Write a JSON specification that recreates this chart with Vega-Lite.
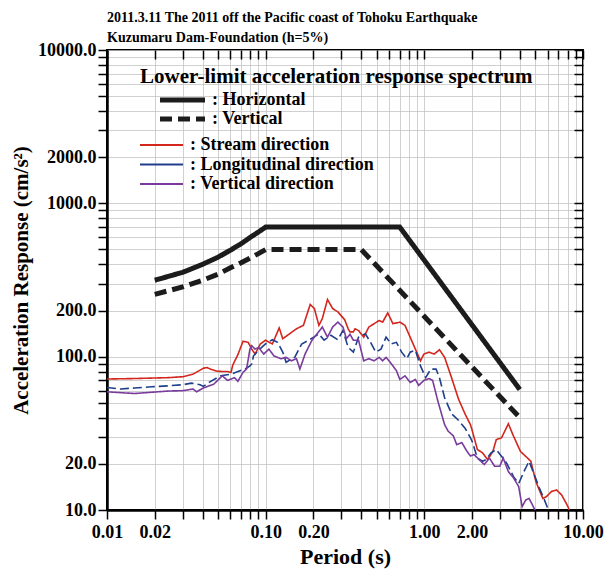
{
  "$schema": "https://vega.github.io/schema/vega-lite/v6.json",
  "width": 476,
  "height": 460,
  "autosize": {"type": "none"},
  "padding": {"left": 107, "top": 50, "right": 26, "bottom": 59},
  "background": "white",
  "title": {
    "text": ["2011.3.11 The 2011 off the Pacific coast of Tohoku Earthquake", "Kuzumaru Dam-Foundation (h=5%)"],
    "anchor": "start",
    "frame": "group",
    "font": "Liberation Serif",
    "fontSize": 14,
    "fontWeight": "bold",
    "color": "black",
    "lineHeight": 20,
    "offset": -4
  },
  "config": {
    "view": {"stroke": "black", "strokeWidth": 2},
    "font": "Liberation Serif",
    "axis": {
      "labelFont": "Liberation Serif",
      "labelFontWeight": "bold",
      "labelColor": "black",
      "titleFont": "Liberation Serif",
      "titleFontWeight": "bold",
      "titleColor": "black",
      "domainColor": "black",
      "tickColor": "black"
    }
  },
  "datasets": {
    "limits": [
      {"spec": "Horizontal", "T": 0.02, "Sa": 315},
      {"spec": "Horizontal", "T": 0.03, "Sa": 355},
      {"spec": "Horizontal", "T": 0.04, "Sa": 400},
      {"spec": "Horizontal", "T": 0.05, "Sa": 445},
      {"spec": "Horizontal", "T": 0.06, "Sa": 495},
      {"spec": "Horizontal", "T": 0.07, "Sa": 545},
      {"spec": "Horizontal", "T": 0.08, "Sa": 600},
      {"spec": "Horizontal", "T": 0.09, "Sa": 650},
      {"spec": "Horizontal", "T": 0.1, "Sa": 700},
      {"spec": "Horizontal", "T": 0.7, "Sa": 700},
      {"spec": "Horizontal", "T": 4.0, "Sa": 61},
      {"spec": "Vertical", "T": 0.02, "Sa": 255},
      {"spec": "Vertical", "T": 0.03, "Sa": 285},
      {"spec": "Vertical", "T": 0.04, "Sa": 315},
      {"spec": "Vertical", "T": 0.05, "Sa": 345},
      {"spec": "Vertical", "T": 0.06, "Sa": 380},
      {"spec": "Vertical", "T": 0.07, "Sa": 410},
      {"spec": "Vertical", "T": 0.08, "Sa": 440},
      {"spec": "Vertical", "T": 0.09, "Sa": 470},
      {"spec": "Vertical", "T": 0.1, "Sa": 500},
      {"spec": "Vertical", "T": 0.4, "Sa": 500},
      {"spec": "Vertical", "T": 4.0, "Sa": 40}
    ],
    "records": [
      {"dir": "Stream direction", "T": 0.01, "Sa": 71.5},
      {"dir": "Stream direction", "T": 0.0149, "Sa": 72},
      {"dir": "Stream direction", "T": 0.0191, "Sa": 72.5},
      {"dir": "Stream direction", "T": 0.0246, "Sa": 73},
      {"dir": "Stream direction", "T": 0.03, "Sa": 74},
      {"dir": "Stream direction", "T": 0.0349, "Sa": 77},
      {"dir": "Stream direction", "T": 0.0405, "Sa": 84},
      {"dir": "Stream direction", "T": 0.0426, "Sa": 85},
      {"dir": "Stream direction", "T": 0.0448, "Sa": 83},
      {"dir": "Stream direction", "T": 0.0495, "Sa": 80.3},
      {"dir": "Stream direction", "T": 0.0547, "Sa": 80},
      {"dir": "Stream direction", "T": 0.0575, "Sa": 80},
      {"dir": "Stream direction", "T": 0.0605, "Sa": 79},
      {"dir": "Stream direction", "T": 0.062, "Sa": 88},
      {"dir": "Stream direction", "T": 0.0668, "Sa": 103},
      {"dir": "Stream direction", "T": 0.072, "Sa": 126},
      {"dir": "Stream direction", "T": 0.0776, "Sa": 124},
      {"dir": "Stream direction", "T": 0.0817, "Sa": 112},
      {"dir": "Stream direction", "T": 0.0858, "Sa": 104},
      {"dir": "Stream direction", "T": 0.0925, "Sa": 121},
      {"dir": "Stream direction", "T": 0.0997, "Sa": 128},
      {"dir": "Stream direction", "T": 0.1102, "Sa": 121},
      {"dir": "Stream direction", "T": 0.1217, "Sa": 154},
      {"dir": "Stream direction", "T": 0.1281, "Sa": 131},
      {"dir": "Stream direction", "T": 0.1414, "Sa": 141},
      {"dir": "Stream direction", "T": 0.1564, "Sa": 152},
      {"dir": "Stream direction", "T": 0.1729, "Sa": 160},
      {"dir": "Stream direction", "T": 0.1909, "Sa": 219},
      {"dir": "Stream direction", "T": 0.2027, "Sa": 206},
      {"dir": "Stream direction", "T": 0.2165, "Sa": 160},
      {"dir": "Stream direction", "T": 0.2275, "Sa": 177},
      {"dir": "Stream direction", "T": 0.2453, "Sa": 236},
      {"dir": "Stream direction", "T": 0.2643, "Sa": 206},
      {"dir": "Stream direction", "T": 0.2849, "Sa": 196},
      {"dir": "Stream direction", "T": 0.315, "Sa": 174},
      {"dir": "Stream direction", "T": 0.331, "Sa": 152},
      {"dir": "Stream direction", "T": 0.34, "Sa": 145},
      {"dir": "Stream direction", "T": 0.357, "Sa": 145},
      {"dir": "Stream direction", "T": 0.366, "Sa": 152},
      {"dir": "Stream direction", "T": 0.385, "Sa": 148},
      {"dir": "Stream direction", "T": 0.415, "Sa": 134},
      {"dir": "Stream direction", "T": 0.447, "Sa": 156},
      {"dir": "Stream direction", "T": 0.482, "Sa": 164},
      {"dir": "Stream direction", "T": 0.519, "Sa": 172},
      {"dir": "Stream direction", "T": 0.546, "Sa": 168},
      {"dir": "Stream direction", "T": 0.588, "Sa": 193},
      {"dir": "Stream direction", "T": 0.634, "Sa": 164},
      {"dir": "Stream direction", "T": 0.701, "Sa": 168},
      {"dir": "Stream direction", "T": 0.755, "Sa": 160},
      {"dir": "Stream direction", "T": 0.814, "Sa": 134},
      {"dir": "Stream direction", "T": 0.878, "Sa": 112},
      {"dir": "Stream direction", "T": 0.946, "Sa": 94},
      {"dir": "Stream direction", "T": 0.994, "Sa": 104},
      {"dir": "Stream direction", "T": 1.07, "Sa": 107},
      {"dir": "Stream direction", "T": 1.155, "Sa": 104},
      {"dir": "Stream direction", "T": 1.245, "Sa": 111},
      {"dir": "Stream direction", "T": 1.342, "Sa": 99},
      {"dir": "Stream direction", "T": 1.484, "Sa": 73},
      {"dir": "Stream direction", "T": 1.641, "Sa": 53},
      {"dir": "Stream direction", "T": 1.811, "Sa": 42},
      {"dir": "Stream direction", "T": 1.953, "Sa": 36},
      {"dir": "Stream direction", "T": 2.003, "Sa": 33},
      {"dir": "Stream direction", "T": 2.159, "Sa": 24.8},
      {"dir": "Stream direction", "T": 2.327, "Sa": 23.6},
      {"dir": "Stream direction", "T": 2.507, "Sa": 21.3},
      {"dir": "Stream direction", "T": 2.703, "Sa": 24.1},
      {"dir": "Stream direction", "T": 2.841, "Sa": 28.8},
      {"dir": "Stream direction", "T": 3.062, "Sa": 29.5},
      {"dir": "Stream direction", "T": 3.385, "Sa": 36.5},
      {"dir": "Stream direction", "T": 3.649, "Sa": 30.3},
      {"dir": "Stream direction", "T": 4.035, "Sa": 24.1},
      {"dir": "Stream direction", "T": 4.35, "Sa": 22.4},
      {"dir": "Stream direction", "T": 4.69, "Sa": 20.8},
      {"dir": "Stream direction", "T": 5.05, "Sa": 15.3},
      {"dir": "Stream direction", "T": 5.58, "Sa": 11.9},
      {"dir": "Stream direction", "T": 5.87, "Sa": 12.2},
      {"dir": "Stream direction", "T": 6.33, "Sa": 13.2},
      {"dir": "Stream direction", "T": 6.82, "Sa": 13.5},
      {"dir": "Stream direction", "T": 7.35, "Sa": 12.5},
      {"dir": "Stream direction", "T": 7.93, "Sa": 10.8},
      {"dir": "Stream direction", "T": 8.33, "Sa": 9.7},
      {"dir": "Longitudinal direction", "T": 0.01, "Sa": 63},
      {"dir": "Longitudinal direction", "T": 0.0122, "Sa": 61.5},
      {"dir": "Longitudinal direction", "T": 0.0149, "Sa": 62.5},
      {"dir": "Longitudinal direction", "T": 0.0191, "Sa": 63.6},
      {"dir": "Longitudinal direction", "T": 0.0246, "Sa": 64.6},
      {"dir": "Longitudinal direction", "T": 0.03, "Sa": 65.6},
      {"dir": "Longitudinal direction", "T": 0.034, "Sa": 67.2},
      {"dir": "Longitudinal direction", "T": 0.0386, "Sa": 65.6},
      {"dir": "Longitudinal direction", "T": 0.0405, "Sa": 64},
      {"dir": "Longitudinal direction", "T": 0.044, "Sa": 68},
      {"dir": "Longitudinal direction", "T": 0.0495, "Sa": 73},
      {"dir": "Longitudinal direction", "T": 0.0521, "Sa": 75},
      {"dir": "Longitudinal direction", "T": 0.0605, "Sa": 77},
      {"dir": "Longitudinal direction", "T": 0.0739, "Sa": 83},
      {"dir": "Longitudinal direction", "T": 0.0796, "Sa": 87},
      {"dir": "Longitudinal direction", "T": 0.082, "Sa": 90},
      {"dir": "Longitudinal direction", "T": 0.0837, "Sa": 101},
      {"dir": "Longitudinal direction", "T": 0.0902, "Sa": 110},
      {"dir": "Longitudinal direction", "T": 0.0997, "Sa": 121},
      {"dir": "Longitudinal direction", "T": 0.1102, "Sa": 129},
      {"dir": "Longitudinal direction", "T": 0.1188, "Sa": 124},
      {"dir": "Longitudinal direction", "T": 0.1281, "Sa": 107},
      {"dir": "Longitudinal direction", "T": 0.1346, "Sa": 92},
      {"dir": "Longitudinal direction", "T": 0.1524, "Sa": 99},
      {"dir": "Longitudinal direction", "T": 0.1686, "Sa": 121},
      {"dir": "Longitudinal direction", "T": 0.1864, "Sa": 128},
      {"dir": "Longitudinal direction", "T": 0.2009, "Sa": 134},
      {"dir": "Longitudinal direction", "T": 0.2165, "Sa": 141},
      {"dir": "Longitudinal direction", "T": 0.2334, "Sa": 128},
      {"dir": "Longitudinal direction", "T": 0.2577, "Sa": 138},
      {"dir": "Longitudinal direction", "T": 0.2849, "Sa": 129},
      {"dir": "Longitudinal direction", "T": 0.3071, "Sa": 148},
      {"dir": "Longitudinal direction", "T": 0.331, "Sa": 115},
      {"dir": "Longitudinal direction", "T": 0.357, "Sa": 107},
      {"dir": "Longitudinal direction", "T": 0.385, "Sa": 134},
      {"dir": "Longitudinal direction", "T": 0.425, "Sa": 141},
      {"dir": "Longitudinal direction", "T": 0.458, "Sa": 124},
      {"dir": "Longitudinal direction", "T": 0.494, "Sa": 107},
      {"dir": "Longitudinal direction", "T": 0.533, "Sa": 112},
      {"dir": "Longitudinal direction", "T": 0.574, "Sa": 134},
      {"dir": "Longitudinal direction", "T": 0.619, "Sa": 121},
      {"dir": "Longitudinal direction", "T": 0.667, "Sa": 124},
      {"dir": "Longitudinal direction", "T": 0.719, "Sa": 107},
      {"dir": "Longitudinal direction", "T": 0.775, "Sa": 97},
      {"dir": "Longitudinal direction", "T": 0.814, "Sa": 107},
      {"dir": "Longitudinal direction", "T": 0.878, "Sa": 110},
      {"dir": "Longitudinal direction", "T": 0.946, "Sa": 87},
      {"dir": "Longitudinal direction", "T": 1.02, "Sa": 73},
      {"dir": "Longitudinal direction", "T": 1.099, "Sa": 83},
      {"dir": "Longitudinal direction", "T": 1.185, "Sa": 83},
      {"dir": "Longitudinal direction", "T": 1.245, "Sa": 73},
      {"dir": "Longitudinal direction", "T": 1.342, "Sa": 54},
      {"dir": "Longitudinal direction", "T": 1.484, "Sa": 42.5},
      {"dir": "Longitudinal direction", "T": 1.641, "Sa": 38.5},
      {"dir": "Longitudinal direction", "T": 1.811, "Sa": 34},
      {"dir": "Longitudinal direction", "T": 1.953, "Sa": 29.5},
      {"dir": "Longitudinal direction", "T": 2.003, "Sa": 28},
      {"dir": "Longitudinal direction", "T": 2.159, "Sa": 21.8},
      {"dir": "Longitudinal direction", "T": 2.327, "Sa": 20.8},
      {"dir": "Longitudinal direction", "T": 2.445, "Sa": 21.3},
      {"dir": "Longitudinal direction", "T": 2.635, "Sa": 23.6},
      {"dir": "Longitudinal direction", "T": 2.841, "Sa": 24.8},
      {"dir": "Longitudinal direction", "T": 3.062, "Sa": 22.4},
      {"dir": "Longitudinal direction", "T": 3.301, "Sa": 20.2},
      {"dir": "Longitudinal direction", "T": 3.649, "Sa": 16.5},
      {"dir": "Longitudinal direction", "T": 3.934, "Sa": 14.9},
      {"dir": "Longitudinal direction", "T": 4.24, "Sa": 17.8},
      {"dir": "Longitudinal direction", "T": 4.57, "Sa": 20.8},
      {"dir": "Longitudinal direction", "T": 4.93, "Sa": 17},
      {"dir": "Longitudinal direction", "T": 5.31, "Sa": 13.9},
      {"dir": "Longitudinal direction", "T": 5.72, "Sa": 11.6},
      {"dir": "Longitudinal direction", "T": 6.01, "Sa": 10.2},
      {"dir": "Longitudinal direction", "T": 6.3, "Sa": 9.5},
      {"dir": "Vertical direction", "T": 0.01, "Sa": 59},
      {"dir": "Vertical direction", "T": 0.0149, "Sa": 57.5},
      {"dir": "Vertical direction", "T": 0.0191, "Sa": 58.6},
      {"dir": "Vertical direction", "T": 0.0246, "Sa": 59.7},
      {"dir": "Vertical direction", "T": 0.03, "Sa": 60},
      {"dir": "Vertical direction", "T": 0.0349, "Sa": 61.5},
      {"dir": "Vertical direction", "T": 0.0367, "Sa": 59},
      {"dir": "Vertical direction", "T": 0.0405, "Sa": 62.5},
      {"dir": "Vertical direction", "T": 0.0471, "Sa": 66.2},
      {"dir": "Vertical direction", "T": 0.0533, "Sa": 75},
      {"dir": "Vertical direction", "T": 0.0575, "Sa": 70},
      {"dir": "Vertical direction", "T": 0.0636, "Sa": 73},
      {"dir": "Vertical direction", "T": 0.0668, "Sa": 69},
      {"dir": "Vertical direction", "T": 0.072, "Sa": 79},
      {"dir": "Vertical direction", "T": 0.0758, "Sa": 83},
      {"dir": "Vertical direction", "T": 0.0796, "Sa": 112},
      {"dir": "Vertical direction", "T": 0.0817, "Sa": 118},
      {"dir": "Vertical direction", "T": 0.0858, "Sa": 112},
      {"dir": "Vertical direction", "T": 0.0902, "Sa": 115},
      {"dir": "Vertical direction", "T": 0.0972, "Sa": 104},
      {"dir": "Vertical direction", "T": 0.1048, "Sa": 112},
      {"dir": "Vertical direction", "T": 0.1129, "Sa": 101},
      {"dir": "Vertical direction", "T": 0.1249, "Sa": 97},
      {"dir": "Vertical direction", "T": 0.1346, "Sa": 99},
      {"dir": "Vertical direction", "T": 0.1451, "Sa": 94},
      {"dir": "Vertical direction", "T": 0.1564, "Sa": 97},
      {"dir": "Vertical direction", "T": 0.1643, "Sa": 83},
      {"dir": "Vertical direction", "T": 0.1771, "Sa": 104},
      {"dir": "Vertical direction", "T": 0.1958, "Sa": 128},
      {"dir": "Vertical direction", "T": 0.211, "Sa": 141},
      {"dir": "Vertical direction", "T": 0.2275, "Sa": 156},
      {"dir": "Vertical direction", "T": 0.2453, "Sa": 134},
      {"dir": "Vertical direction", "T": 0.2643, "Sa": 156},
      {"dir": "Vertical direction", "T": 0.2849, "Sa": 168},
      {"dir": "Vertical direction", "T": 0.3071, "Sa": 156},
      {"dir": "Vertical direction", "T": 0.3227, "Sa": 131},
      {"dir": "Vertical direction", "T": 0.34, "Sa": 140},
      {"dir": "Vertical direction", "T": 0.357, "Sa": 128},
      {"dir": "Vertical direction", "T": 0.385, "Sa": 128},
      {"dir": "Vertical direction", "T": 0.415, "Sa": 94},
      {"dir": "Vertical direction", "T": 0.447, "Sa": 97},
      {"dir": "Vertical direction", "T": 0.482, "Sa": 94},
      {"dir": "Vertical direction", "T": 0.519, "Sa": 99},
      {"dir": "Vertical direction", "T": 0.546, "Sa": 94},
      {"dir": "Vertical direction", "T": 0.574, "Sa": 99},
      {"dir": "Vertical direction", "T": 0.619, "Sa": 90},
      {"dir": "Vertical direction", "T": 0.667, "Sa": 81},
      {"dir": "Vertical direction", "T": 0.701, "Sa": 71},
      {"dir": "Vertical direction", "T": 0.755, "Sa": 75},
      {"dir": "Vertical direction", "T": 0.814, "Sa": 68},
      {"dir": "Vertical direction", "T": 0.878, "Sa": 71},
      {"dir": "Vertical direction", "T": 0.922, "Sa": 65},
      {"dir": "Vertical direction", "T": 0.994, "Sa": 70},
      {"dir": "Vertical direction", "T": 1.07, "Sa": 72},
      {"dir": "Vertical direction", "T": 1.128, "Sa": 70},
      {"dir": "Vertical direction", "T": 1.216, "Sa": 51.5},
      {"dir": "Vertical direction", "T": 1.342, "Sa": 36},
      {"dir": "Vertical direction", "T": 1.412, "Sa": 32.7},
      {"dir": "Vertical direction", "T": 1.522, "Sa": 30.5},
      {"dir": "Vertical direction", "T": 1.6, "Sa": 26.7},
      {"dir": "Vertical direction", "T": 1.724, "Sa": 27.5},
      {"dir": "Vertical direction", "T": 1.858, "Sa": 24.1},
      {"dir": "Vertical direction", "T": 1.953, "Sa": 22.5},
      {"dir": "Vertical direction", "T": 2.055, "Sa": 23},
      {"dir": "Vertical direction", "T": 2.215, "Sa": 21.3},
      {"dir": "Vertical direction", "T": 2.387, "Sa": 19.8},
      {"dir": "Vertical direction", "T": 2.573, "Sa": 21.8},
      {"dir": "Vertical direction", "T": 2.773, "Sa": 19.3},
      {"dir": "Vertical direction", "T": 2.989, "Sa": 19.3},
      {"dir": "Vertical direction", "T": 3.141, "Sa": 21.8},
      {"dir": "Vertical direction", "T": 3.385, "Sa": 17.8},
      {"dir": "Vertical direction", "T": 3.649, "Sa": 16.2},
      {"dir": "Vertical direction", "T": 3.934, "Sa": 14.2},
      {"dir": "Vertical direction", "T": 4.133, "Sa": 10.5},
      {"dir": "Vertical direction", "T": 4.35, "Sa": 11.6},
      {"dir": "Vertical direction", "T": 4.57, "Sa": 11.9},
      {"dir": "Vertical direction", "T": 4.8, "Sa": 10.8},
      {"dir": "Vertical direction", "T": 5.05, "Sa": 9.7}
    ]
  },
  "layer": [
    {
      "data": {"name": "limits"},
      "mark": {"type": "line", "opacity": 0},
      "encoding": {
        "x": {
          "field": "T", "type": "quantitative",
          "scale": {"type": "log", "domain": [0.01, 10], "nice": false},
          "axis": {
            "orient": "bottom",
            "values": [0.01,0.02,0.03,0.04,0.05,0.06,0.07,0.08,0.09,0.1,0.2,0.3,0.4,0.5,0.6,0.7,0.8,0.9,1,2,3,4,5,6,7,8,9,10],
            "grid": true, "gridColor": "#c4c4c4", "gridWidth": 0.8,
            "domain": false, "labels": false, "title": null, "ticks": false
          }
        },
        "y": {
          "field": "Sa", "type": "quantitative",
          "scale": {"type": "log", "domain": [10, 10000], "nice": false},
          "axis": {
            "orient": "left",
            "values": [10,20,30,40,50,60,70,80,90,100,200,300,400,500,600,700,800,900,1000,2000,3000,4000,5000,6000,7000,8000,9000,10000],
            "grid": true, "gridColor": "#c4c4c4", "gridWidth": 0.8,
            "domain": false, "labels": false, "title": null, "ticks": false
          }
        }
      }
    },
    {
      "data": {"name": "limits"},
      "mark": {"type": "line", "opacity": 0},
      "encoding": {
        "x": {
          "field": "T", "type": "quantitative",
          "scale": {"type": "log", "domain": [0.01, 10], "nice": false},
          "axis": {
            "orient": "top",
            "values": [0.01,0.02,0.03,0.04,0.05,0.06,0.07,0.08,0.09,0.1,0.2,0.3,0.4,0.5,0.6,0.7,0.8,0.9,1,2,3,4,5,6,7,8,9,10],
            "grid": false, "domain": false, "labels": false, "title": null,
            "tickSize": 9, "tickWidth": 1.5, "offset": -469
          }
        },
        "y": {
          "field": "Sa", "type": "quantitative",
          "scale": {"type": "log", "domain": [10, 10000], "nice": false},
          "axis": {
            "orient": "right",
            "values": [10,20,30,40,50,60,70,80,90,100,200,300,400,500,600,700,800,900,1000,2000,3000,4000,5000,6000,7000,8000,9000,10000],
            "grid": false, "domain": false, "labels": false, "title": null,
            "tickSize": 9, "tickWidth": 1.5, "offset": -485
          }
        }
      }
    },
    {
      "data": {"name": "limits"},
      "mark": {"type": "line", "strokeWidth": 5, "color": "#1c1c1c", "clip": true},
      "encoding": {
        "x": {
          "field": "T", "type": "quantitative",
          "scale": {"type": "log", "domain": [0.01, 10], "nice": false},
          "axis": {
            "orient": "bottom",
            "values": [0.01,0.02,0.1,0.2,1,2,10],
            "grid": false,
            "domainWidth": 2.5, "ticks": false,
            "labelExpr": "format(datum.value, '.2f')",
            "labelFontSize": 18, "labelPadding": 13, "labelFlush": false, "labelOverlap": false, "labelBound": false,
            "title": "Period (s)", "titleFontSize": 22, "titlePadding": 5
          }
        },
        "y": {
          "field": "Sa", "type": "quantitative",
          "scale": {"type": "log", "domain": [10, 10000], "nice": false},
          "axis": {
            "orient": "left",
            "values": [10,20,100,200,1000,2000,10000],
            "grid": false,
            "domainWidth": 2.5, "ticks": false,
            "labelExpr": "format(datum.value, '.1f')",
            "labelFontSize": 18, "labelPadding": 11, "labelFlush": false, "labelOverlap": false, "labelBound": false,
            "title": "Acceleration Response (cm/s²)", "titleFontSize": 21, "titlePadding": 6
          }
        },
        "strokeDash": {
          "field": "spec", "type": "nominal",
          "scale": {"domain": ["Horizontal", "Vertical"], "range": [[1, 0], [12, 6]]},
          "legend": {
            "orient": "none", "legendX": 33, "legendY": 16, "padding": 0,
            "title": "Lower-limit acceleration response spectrum",
            "titleFont": "Liberation Serif", "titleFontSize": 21, "titleFontWeight": "bold", "titleColor": "black",
            "titleLimit": 600, "titlePadding": 4,
            "labelExpr": "': ' + datum.label",
            "labelFont": "Liberation Serif", "labelFontSize": 18, "labelFontWeight": "bold", "labelColor": "black", "labelLimit": 400,
            "symbolType": "M-4.5,0H4.5", "symbolSize": 100, "symbolStrokeWidth": 5, "symbolStrokeColor": "#1c1c1c",
            "symbolOffset": 33.5, "labelOffset": 20.5, "rowPadding": -6
          }
        }
      }
    },
    {
      "data": {"name": "records"},
      "mark": {"type": "line", "strokeWidth": 1.6, "clip": true},
      "encoding": {
        "x": {
          "field": "T", "type": "quantitative",
          "scale": {"type": "log", "domain": [0.01, 10], "nice": false},
          "axis": {
            "orient": "top",
            "values": [0.01,0.02,0.03,0.04,0.05,0.06,0.07,0.08,0.09,0.1,0.2,0.3,0.4,0.5,0.6,0.7,0.8,0.9,1,2,3,4,5,6,7,8,9,10],
            "grid": false, "labels": false, "title": null, "domain": false,
            "offset": -9, "tickWidth": 1.5, "tickSize": 9
          }
        },
        "y": {
          "field": "Sa", "type": "quantitative",
          "scale": {"type": "log", "domain": [10, 10000], "nice": false},
          "axis": {
            "orient": "right",
            "values": [10,20,30,40,50,60,70,80,90,100,200,300,400,500,600,700,800,900,1000,2000,3000,4000,5000,6000,7000,8000,9000,10000],
            "grid": false, "labels": false, "title": null, "domain": false,
            "offset": -9, "tickWidth": 1.5, "tickSize": 9
          }
        },
        "color": {
          "field": "dir", "type": "nominal",
          "scale": {"domain": ["Stream direction", "Longitudinal direction", "Vertical direction"], "range": ["#d3261d", "#1f3f8c", "#7a3c9c"]},
          "legend": {
            "orient": "none", "legendX": 33, "legendY": 86, "padding": 0,
            "title": null,
            "labelExpr": "': ' + datum.label",
            "labelFont": "Liberation Serif", "labelFontSize": 18, "labelFontWeight": "bold", "labelColor": "black", "labelLimit": 400,
            "symbolType": "M-4.3,0H4.3", "symbolSize": 100, "symbolStrokeWidth": 2,
            "symbolOffset": 12.5, "labelOffset": 19.5, "rowPadding": 1.5
          }
        },
        "strokeDash": {
          "field": "dir", "type": "nominal",
          "scale": {"domain": ["Stream direction", "Longitudinal direction", "Vertical direction"], "range": [[1, 0], [9, 4], [1, 0]]},
          "legend": null
        }
      }
    }
  ],
  "resolve": {
    "scale": {"strokeDash": "independent"},
    "axis": {"x": "independent", "y": "independent"}
  }
}
